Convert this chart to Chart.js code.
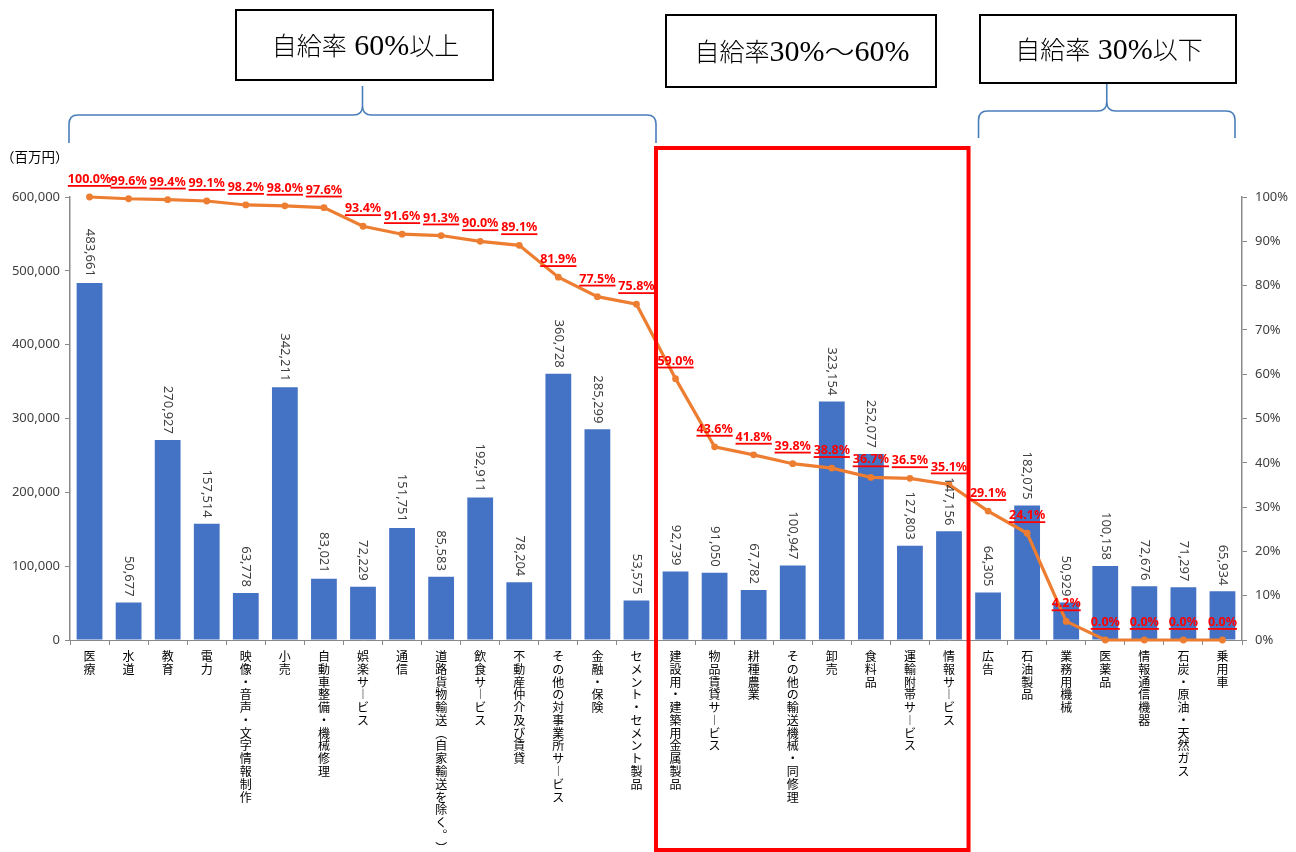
<!DOCTYPE html>
<html>
<head>
<meta charset="utf-8">
<script src="https://cdn.jsdelivr.net/npm/chart.js@4.4.1/dist/chart.umd.min.js"></script>
<style>
html,body{margin:0;padding:0;background:#fff;overflow:hidden}
#wrap{width:1296px;height:852px;position:relative}
canvas{display:block}
</style>
</head>
<body>
<div id="wrap"><canvas id="c" width="1296" height="852" style="width:1296px;height:852px"></canvas></div>
<script>
// ---- data ----
const categories = [
  '医療','水道','教育','電力','映像・音声・文字情報制作','小売','自動車整備・機械修理','娯楽サービス',
  '通信','道路貨物輸送（自家輸送を除く。）','飲食サービス','不動産仲介及び賃貸','その他の対事業所サービス',
  '金融・保険','セメント・セメント製品','建設用・建築用金属製品','物品賃貸サービス','耕種農業',
  'その他の輸送機械・同修理','卸売','食料品','運輸附帯サービス','情報サービス','広告','石油製品',
  '業務用機械','医薬品','情報通信機器','石炭・原油・天然ガス','乗用車'
];
// 生産額（百万円）
const productionValues = [
  483661, 50677, 270927, 157514, 63778, 342211, 83021, 72229,
  151751, 85583, 192911, 78204, 360728,
  285299, 53575, 92739, 91050, 67782,
  100947, 323154, 252077, 127803, 147156, 64305, 182075,
  50929, 100158, 72676, 71297, 65934
];
// 自給率（%）
const selfSufficiencyRates = [
  100.0, 99.6, 99.4, 99.1, 98.2, 98.0, 97.6, 93.4,
  91.6, 91.3, 90.0, 89.1, 81.9,
  77.5, 75.8, 59.0, 43.6, 41.8,
  39.8, 38.8, 36.7, 36.5, 35.1, 29.1, 24.1,
  4.2, 0.0, 0.0, 0.0, 0.0
];
const leftTicks = [0, 100000, 200000, 300000, 400000, 500000, 600000];
const rightTicks = [0, 10, 20, 30, 40, 50, 60, 70, 80, 90, 100];
const groupTitles = ['自給率 60%以上', '自給率30%〜60%', '自給率 30%以下'];
const groupRanges = [[0, 14], [15, 22], [23, 29]]; // category index ranges
const unitLabel = '（百万円）';

// ---- helpers ----
const verticalForms = { 'ー': '︱', '（': '︵', '）': '︶', '。': '︒', '、': '︑' };
function toVertical(s) { return Array.from(s).map(ch => verticalForms[ch] || ch); }
const fmtNum = v => v.toLocaleString('en-US');

const GREY = '#898989';
const TXT = '#404040';

const LATIN_FONT = '30px "Liberation Serif", "DejaVu Serif", serif';
const CJK_FONT = '300 25px "Noto Sans CJK JP", sans-serif';
function drawTitle(ctx, text, cx, cy) {
  const cells = Array.from(text).map(ch => {
    const latin = /[0-9% ]/.test(ch);
    ctx.font = latin ? LATIN_FONT : CJK_FONT;
    let w = ctx.measureText(ch).width;
    if (ch === '〜') w = 30;
    return { ch, latin, w };
  });
  const total = cells.reduce((a, c) => a + c.w, 0);
  let x = cx - total / 2;
  const base = cy + 10;
  ctx.textAlign = 'center';
  ctx.textBaseline = 'alphabetic';
  cells.forEach(c => {
    ctx.font = c.latin ? LATIN_FONT : CJK_FONT;
    if (c.ch === '〜') {
      ctx.save();
      ctx.translate(x + c.w / 2, base);
      ctx.scale(1.2, 1);
      ctx.fillText(c.ch, 0, 0);
      ctx.restore();
    } else if (c.ch !== ' ') {
      ctx.fillText(c.ch, x + c.w / 2, base);
    }
    x += c.w;
  });
}

const overlay = {
  id: 'overlay',
  afterDatasetsDraw(chart) {
    const ctx = chart.ctx;
    const barMeta = chart.getDatasetMeta(0);
    const lineMeta = chart.getDatasetMeta(1);
    ctx.save();
    // bar value labels (rotated)
    ctx.font = '13px "Noto Sans", "DejaVu Sans", sans-serif';
    ctx.fillStyle = TXT;
    barMeta.data.forEach((el, i) => {
      ctx.save();
      ctx.translate(el.x, el.y - 6);
      ctx.rotate(Math.PI / 2);
      ctx.textAlign = 'right';
      ctx.textBaseline = 'middle';
      ctx.fillText(fmtNum(productionValues[i]), 0, 0);
      ctx.restore();
    });
    // percentage labels (bold red underlined)
    ctx.font = 'bold 12.5px "Noto Sans", "DejaVu Sans", sans-serif';
    ctx.fillStyle = '#FF0000';
    ctx.textAlign = 'center';
    ctx.textBaseline = 'alphabetic';
    lineMeta.data.forEach((pt, i) => {
      const t = selfSufficiencyRates[i].toFixed(1) + '%';
      const w = ctx.measureText(t).width;
      ctx.fillText(t, pt.x, pt.y - 14);
      ctx.fillRect(pt.x - w / 2, pt.y - 12, w, 1.8);
    });
    ctx.restore();
  },
  afterDraw(chart) {
    const ctx = chart.ctx;
    const xs = chart.scales.x;
    const half = (xs.getPixelForValue(1) - xs.getPixelForValue(0)) / 2;
    const edgeL = i => xs.getPixelForValue(i) - half;
    const edgeR = i => xs.getPixelForValue(i) + half;
    ctx.save();

    // unit label
    ctx.font = '13.5px "Noto Sans CJK JP", sans-serif';
    ctx.fillStyle = '#000';
    ctx.textAlign = 'left';
    ctx.textBaseline = 'middle';
    ctx.fillText(unitLabel, 1, 157);

    // braces
    function brace(L, R, C, top, mid, bottom) {
      const r = 9;
      ctx.beginPath();
      ctx.moveTo(L, bottom);
      ctx.lineTo(L, mid + r);
      ctx.quadraticCurveTo(L, mid, L + r, mid);
      ctx.lineTo(C - r, mid);
      ctx.quadraticCurveTo(C, mid, C, mid - r);
      ctx.lineTo(C, top);
      ctx.moveTo(C, mid - r);
      ctx.quadraticCurveTo(C, mid, C + r, mid);
      ctx.lineTo(R - r, mid);
      ctx.quadraticCurveTo(R, mid, R, mid + r);
      ctx.lineTo(R, bottom);
      ctx.stroke();
    }
    ctx.strokeStyle = '#4A7EBB';
    ctx.lineWidth = 1.6;
    const b1L = edgeL(groupRanges[0][0]) - 1, b1R = edgeR(groupRanges[0][1]);
    brace(b1L, b1R, (b1L + b1R) / 2, 86, 115, 143);
    const b3L = edgeL(groupRanges[2][0]) + 10, b3R = edgeR(groupRanges[2][1]) - 7;
    brace(b3L, b3R, (b3L + b3R) / 2, 83, 111, 138);

    // title boxes
    const boxes = [
      { x: 236, y: 10, w: 257, h: 70 },
      { x: 666, y: 15, w: 270, h: 72 },
      { x: 980, y: 15, w: 256, h: 68 }
    ];
    ctx.strokeStyle = '#000';
    ctx.lineWidth = 2;
    boxes.forEach((b, i) => {
      ctx.fillStyle = '#fff';
      ctx.fillRect(b.x, b.y, b.w, b.h);
      ctx.strokeRect(b.x, b.y, b.w, b.h);
      ctx.fillStyle = '#000';
      drawTitle(ctx, groupTitles[i], b.x + b.w / 2 + 1, b.y + b.h / 2);
    });

    // red highlight rectangle
    ctx.strokeStyle = '#FF0000';
    ctx.lineWidth = 4;
    const rL = edgeL(groupRanges[1][0]), rR = edgeR(groupRanges[1][1]);
    ctx.strokeRect(rL, 148, rR - rL, 702);
    ctx.restore();
  }
};

const chart = new Chart(document.getElementById('c'), {
  data: {
    labels: categories,
    datasets: [
      {
        type: 'bar',
        label: '生産額',
        data: productionValues,
        backgroundColor: '#4472C4',
        borderWidth: 0,
        barPercentage: 0.66,
        categoryPercentage: 1.0,
        yAxisID: 'y',
        order: 2
      },
      {
        type: 'line',
        label: '自給率',
        data: selfSufficiencyRates,
        borderColor: '#ED7D31',
        backgroundColor: '#ED7D31',
        borderWidth: 3.2,
        pointRadius: 3.4,
        pointBackgroundColor: '#ED7D31',
        pointBorderColor: '#ED7D31',
        pointBorderWidth: 0,
        tension: 0,
        clip: false,
        yAxisID: 'y1',
        order: 1
      }
    ]
  },
  options: {
    responsive: false,
    animation: false,
    devicePixelRatio: 1,
    layout: { padding: { top: 197, left: 0, right: 0, bottom: 0 } },
    plugins: { legend: { display: false }, tooltip: { enabled: false } },
    scales: {
      x: {
        type: 'category',
        grid: { offset: true, drawOnChartArea: false, drawTicks: true, tickLength: 5, color: GREY },
        border: { color: GREY, width: 1 },
        ticks: {
          autoSkip: false, maxRotation: 0, minRotation: 0, padding: 5,
          color: '#000',
          font: { family: '"Noto Sans CJK JP", sans-serif', size: 12, lineHeight: 1.065 },
          callback: (v, i) => toVertical(categories[i])
        },
        afterFit: s => { s.height = 212; }
      },
      y: {
        position: 'left',
        min: 0, max: 600000,
        afterBuildTicks: s => { s.ticks = leftTicks.map(v => ({ value: v })); },
        grid: { drawOnChartArea: false, drawTicks: true, tickLength: 5, color: GREY },
        border: { color: GREY, width: 1.5 },
        ticks: {
          padding: 5, color: TXT,
          font: { family: '"Noto Sans", sans-serif', size: 13 },
          callback: v => fmtNum(v)
        },
        afterFit: s => { s.width = 70; }
      },
      y1: {
        position: 'right',
        min: 0, max: 100,
        afterBuildTicks: s => { s.ticks = rightTicks.map(v => ({ value: v })); },
        grid: { drawOnChartArea: false, drawTicks: true, tickLength: 5, color: GREY },
        border: { color: GREY, width: 1.5 },
        ticks: {
          padding: 8, color: TXT,
          font: { family: '"Noto Sans", sans-serif', size: 13 },
          callback: v => v + '%'
        },
        afterFit: s => { s.width = 54; }
      }
    }
  },
  plugins: [overlay]
});
</script>
</body>
</html>
